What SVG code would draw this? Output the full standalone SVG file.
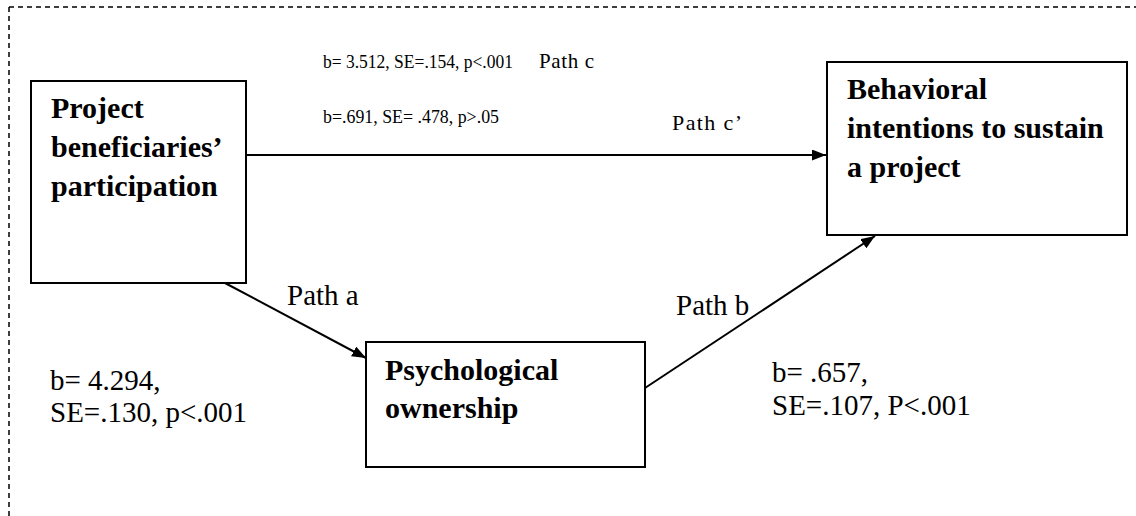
<svg xmlns="http://www.w3.org/2000/svg" width="1136" height="516" viewBox="0 0 1136 516">
<style>
.box{fill:#fff;stroke:#000;stroke-width:2}
.bold{font-family:"Liberation Serif","Times New Roman",serif;font-weight:bold;font-size:30px;fill:#000}
.reg{font-family:"Liberation Serif","Times New Roman",serif;font-size:29px;fill:#000}
.top{font-family:"Liberation Serif","Times New Roman",serif;font-size:21px;fill:#000}
.stat{font-family:"Liberation Serif","Times New Roman",serif;font-size:19px;fill:#000}
.conn{stroke:#000;stroke-width:2;fill:none;marker-end:url(#arr)}
.frame{stroke:#000;stroke-width:1.5;fill:none;stroke-dasharray:5 4}
</style>
<defs>
<marker id="arr" viewBox="0 0 14 11" refX="14" refY="5.5" markerWidth="14" markerHeight="11" markerUnits="userSpaceOnUse" orient="auto">
<path d="M0,0 L14,5.5 L0,11 Z" fill="#000"/>
</marker>
</defs>
<g id="frame">
<line class="frame" x1="9" y1="7" x2="1136" y2="7"/>
<line class="frame" x1="9" y1="7" x2="9" y2="516"/>
</g>
<g id="connectors">
<line class="conn" x1="247" y1="155" x2="826" y2="155"/>
<line class="conn" x1="225" y1="283" x2="366" y2="358"/>
<line class="conn" x1="645" y1="388" x2="875" y2="236"/>
</g>
<g id="node-participation">
<rect class="box" x="31" y="81" width="215" height="202"/>
<text class="bold" x="51" y="118">Project</text>
<text class="bold" x="51" y="157">beneficiaries’</text>
<text class="bold" x="51" y="196">participation</text>
</g>
<g id="node-intentions">
<rect class="box" x="827" y="62" width="300" height="173"/>
<text class="bold" x="847" y="99">Behavioral</text>
<text class="bold" x="847" y="138">intentions to sustain</text>
<text class="bold" x="847" y="177">a project</text>
</g>
<g id="node-ownership">
<rect class="box" x="366" y="342" width="279" height="125"/>
<text class="bold" x="385" y="380">Psychological</text>
<text class="bold" x="385" y="418">ownership</text>
</g>
<g id="labels">
<text class="stat" x="323" y="68" textLength="190" lengthAdjust="spacingAndGlyphs">b= 3.512, SE=.154, p&lt;.001</text>
<text class="top" x="539" y="68" textLength="55">Path c</text>
<text class="stat" x="323" y="123" textLength="176" lengthAdjust="spacingAndGlyphs">b=.691, SE= .478, p&gt;.05</text>
<text class="top" x="672" y="130" style="font-size:22px" textLength="70">Path c’</text>
<text class="reg" x="287" y="305">Path a</text>
<text class="reg" x="676" y="315">Path b</text>
<text class="reg" x="50" y="390">b= 4.294,</text>
<text class="reg" x="50" y="422">SE=.130, p&lt;.001</text>
<text class="reg" x="772" y="382">b= .657,</text>
<text class="reg" x="772" y="415">SE=.107, P&lt;.001</text>
</g>
</svg>
